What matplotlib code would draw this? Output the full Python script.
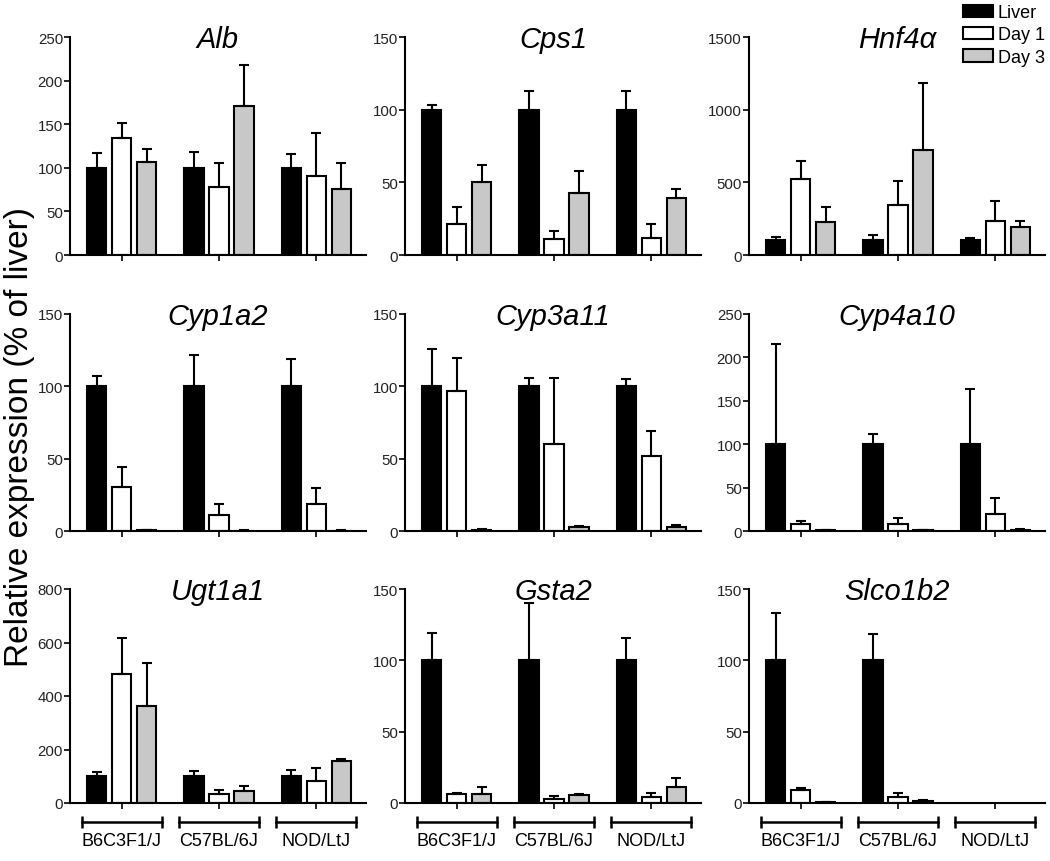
import numpy as np
import matplotlib
matplotlib.use('Agg')
import matplotlib.pyplot as plt
from matplotlib.patches import Patch

plt.rcParams['font.family'] = ['Liberation Sans', 'DejaVu Sans']

# data (% of liver, mean and upper error)
genes = ['Alb', 'Cps1', 'Hnf4α', 'Cyp1a2', 'Cyp3a11', 'Cyp4a10', 'Ugt1a1', 'Gsta2', 'Slco1b2']
strains = ['B6C3F1/J', 'C57BL/6J', 'NOD/LtJ']
series = ['Liver', 'Day 1', 'Day 3']
ymax = [250, 150, 1500, 150, 150, 250, 800, 150, 150]
ystep = [50, 50, 500, 50, 50, 50, 200, 50, 50]

nan = np.nan
liver_mean = [
    [100, 100, 100], [100, 100, 100], [100, 100, 100],
    [100, 100, 100], [100, 100, 100], [100, 100, 100],
    [100, 100, 100], [100, 100, 100], [100, 100, nan],
]
liver_err = [
    [17, 18, 16], [3, 13, 13], [22, 36, 18],
    [7, 22, 19], [25.5, 6, 5], [116, 12, 64],
    [16, 19, 22], [19.5, 40, 16], [33, 18.5, nan],
]
day1_mean = [
    [134, 77.5, 91], [21, 11, 12], [526, 347, 236],
    [30.7, 11.3, 19], [96.7, 60, 51.7], [8.5, 8.5, 20],
    [483, 35, 82], [6, 3, 4.4], [9.2, 4, nan],
]
day1_err = [
    [17, 27.5, 49], [12, 5.5, 9], [124, 161, 136],
    [13.6, 7.2, 10.8], [23, 45.5, 17.3], [3, 6.5, 18.5],
    [134, 13.5, 50], [0.7, 1.8, 2.6], [1.1, 2.9, nan],
]
day3_mean = [
    [107, 171, 76], [50, 43, 39.5], [227, 721, 190],
    [0.5, 0.3, 0.3], [1, 2.5, 2.5], [1, 1, 1.5],
    [361, 46, 158], [6, 5.5, 11.5], [0.5, 1.2, nan],
]
day3_err = [
    [14, 47, 29], [12, 14.5, 6], [106, 462, 41],
    [0.3, 0.1, 0.1], [0.5, 1, 1.5], [0.5, 0.5, 0.5],
    [163, 16, 7], [5, 0.5, 6.2], [0.2, 0.6, nan],
]
colors = ['black', 'white', '#c8c8c8']

W, H = 1050, 862
fig = plt.figure(figsize=(W / 100, H / 100), dpi=100)

col_left = [70, 405, 749]
col_width = 296
row_top = [38, 315, 590]
row_bot = [256, 532, 804]

x = np.arange(len(strains))
bw = 0.2
pitch = 0.256

for k, gene in enumerate(genes):
    r, c = divmod(k, 3)
    ax = fig.add_axes([col_left[c] / W, 1 - row_bot[r] / H,
                       col_width / W, (row_bot[r] - row_top[r]) / H])
    means = [liver_mean[k], day1_mean[k], day3_mean[k]]
    errs = [liver_err[k], day1_err[k], day3_err[k]]
    for j in range(3):
        m = np.array(means[j], dtype=float)
        e = np.array(errs[j], dtype=float)
        ok = ~np.isnan(m)
        xs = x[ok] + (j - 1) * pitch
        ax.bar(xs, m[ok], bw, color=colors[j], edgecolor='black',
               linewidth=1.5, zorder=2)
        ax.errorbar(xs, m[ok], yerr=[np.zeros(ok.sum()), e[ok]], fmt='none',
                    ecolor='black', elinewidth=1.5, capsize=3.5, capthick=1.5,
                    zorder=3)

    ax.set_xlim(-0.53, 2.51)
    ax.set_ylim(0, ymax[k])
    ax.set_yticks(np.arange(0, ymax[k] + 1, ystep[k]))
    ax.set_xticks(x)
    ax.set_xticklabels([])
    for s in ['top', 'right']:
        ax.spines[s].set_visible(False)
    for s in ['left', 'bottom']:
        ax.spines[s].set_linewidth(1.5)
    ax.tick_params(direction='out', length=4, width=1.2, labelsize=10.8,
                   pad=1, labelcolor='#222222')
    ax.text(0.5, 1 - 10 / (row_bot[r] - row_top[r]), gene,
            transform=ax.transAxes, ha='center', va='baseline',
            style='italic', fontsize=21)

    if r == 2:
        trans = ax.get_xaxis_transform()
        h = row_bot[r] - row_top[r]
        for i, name in enumerate(strains):
            ax.plot([x[i] - 0.41, x[i] + 0.41], [-19 / h, -19 / h],
                    color='black', lw=1.8, transform=trans, clip_on=False)
            ax.plot([x[i] - 0.41, x[i] + 0.41], [-19 / h, -19 / h],
                    ls='none', marker='|', ms=9, mew=1.8, color='black',
                    transform=trans, clip_on=False)
            ax.text(x[i], -38 / h, name, transform=trans, ha='center',
                    va='center', fontsize=13)

fig.text(20 / W, 1 - 437 / H, 'Relative expression (% of liver)',
         rotation=90, ha='center', va='center', fontsize=24)

handles = [Patch(facecolor=colors[j], edgecolor='black', linewidth=1.5)
           for j in range(3)]
fig.legend(handles, series, loc='upper left',
           bbox_to_anchor=(963 / W, 1 - 5 / H), frameon=False,
           fontsize=13, borderpad=0, borderaxespad=0, handlelength=1.67,
           handleheight=0.67, handletextpad=0.25, labelspacing=0.3)

fig.savefig('out.png', dpi=100)
